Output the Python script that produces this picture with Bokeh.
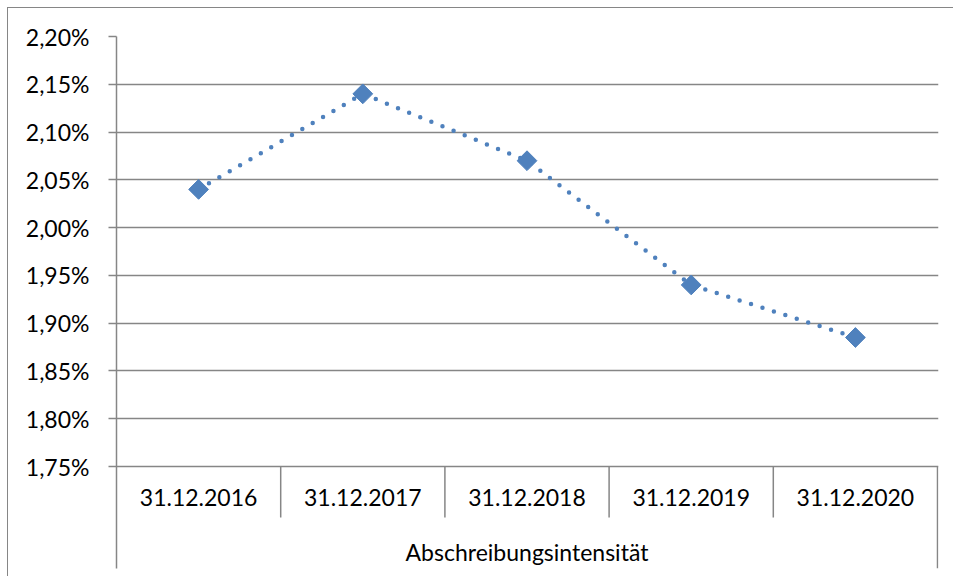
import numpy as np
from bokeh.plotting import figure
from bokeh.models import Range1d, FixedTicker, CustomJSTickFormatter
from bokeh.core.properties import value
from bokeh.embed import file_html
from bokeh.resources import INLINE

# ---- data ----
categories = ["31.12.2016", "31.12.2017", "31.12.2018", "31.12.2019", "31.12.2020"]
values = [2.04, 2.14, 2.07, 1.94, 1.885]          # percent
group_label = "Abschreibungsintensität"
y_ticks = [1.75, 1.80, 1.85, 1.90, 1.95, 2.00, 2.05, 2.10, 2.15, 2.20]

# ---- layout ----
W, H = 946, 569
B_LEFT, B_TOP, B_RIGHT, B_BOTTOM = 108, 28, 16, 9
frame_w = W - B_LEFT - B_RIGHT
frame_h = H - B_TOP - B_BOTTOM
px_per_unit = 430 / (y_ticks[-1] - y_ticks[0])
y_end = y_ticks[-1]
y_start = y_end - frame_h / px_per_unit
cat_px = 821 / len(categories)
x_end = frame_w / cat_px

FONT = "Lato"
FS = "23px"
GREY = "#868686"
BLUE = "#4F81BD"

p = figure(width=W, height=H, output_backend="svg", toolbar_location=None,
           x_range=Range1d(0, x_end), y_range=Range1d(y_start, y_end),
           x_axis_location=None, min_border_left=B_LEFT, min_border_top=B_TOP,
           min_border_right=B_RIGHT, min_border_bottom=B_BOTTOM)
p.styles = {"border-left": f"1px solid {GREY}", "border-top": f"1px solid {GREY}",
            "margin-left": "7px", "margin-top": "7px"}
p.outline_line_color = None
p.background_fill_color = "white"
p.border_fill_color = "white"
p.xgrid.visible = False
p.ygrid.ticker = FixedTicker(ticks=y_ticks)
p.ygrid.grid_line_color = GREY
p.ygrid.grid_line_width = 1.5

ax = p.yaxis[0]
ax.ticker = FixedTicker(ticks=y_ticks)
ax.formatter = CustomJSTickFormatter(code="return tick.toFixed(2).replace('.', ',') + '%';")
ax.major_tick_out = 8
ax.major_tick_in = 0
ax.minor_tick_out = 0
ax.minor_tick_in = 0
ax.axis_line_color = GREY
ax.axis_line_width = 1.5
ax.major_tick_line_color = GREY
ax.major_tick_line_width = 1.5
ax.major_label_text_font = FONT
ax.major_label_text_font_size = FS
ax.major_label_text_color = "black"
ax.major_label_standoff = 19

# category positions
xc = np.arange(len(categories)) + 0.5
vals = np.array(values)

# category separators
sep_x = np.arange(1, len(categories))
sep_len = 51 / px_per_unit
p.segment(x0=sep_x, y0=[y_ticks[0]] * len(sep_x), x1=sep_x,
          y1=[y_ticks[0] - sep_len] * len(sep_x), line_color=GREY, line_width=1.5)
p.segment(x0=[len(categories)], y0=[y_ticks[0]], x1=[len(categories)], y1=[y_start],
          line_color=GREY, line_width=1.5)

# category labels
p.text(x=xc, y=[y_ticks[0]] * len(categories), text=categories, y_offset=31,
       text_align="center", text_baseline="alphabetic", text_font=value(FONT),
       text_font_size=FS, text_color="black")
p.text(x=[len(categories) / 2], y=[y_ticks[0]], text=[group_label], y_offset=85,
       text_align="center", text_baseline="alphabetic", text_font=value(FONT),
       text_font_size=FS, text_color="black")

# dotted line
p.line(xc, vals, line_color=BLUE, line_width=4.5, line_dash="0 12", line_cap="round")

# diamond markers
p.scatter(xc, vals, marker="square", size=14, angle=np.pi / 4,
          fill_color=BLUE, line_color=BLUE)

open("out.html", "w").write(file_html(p, INLINE))
